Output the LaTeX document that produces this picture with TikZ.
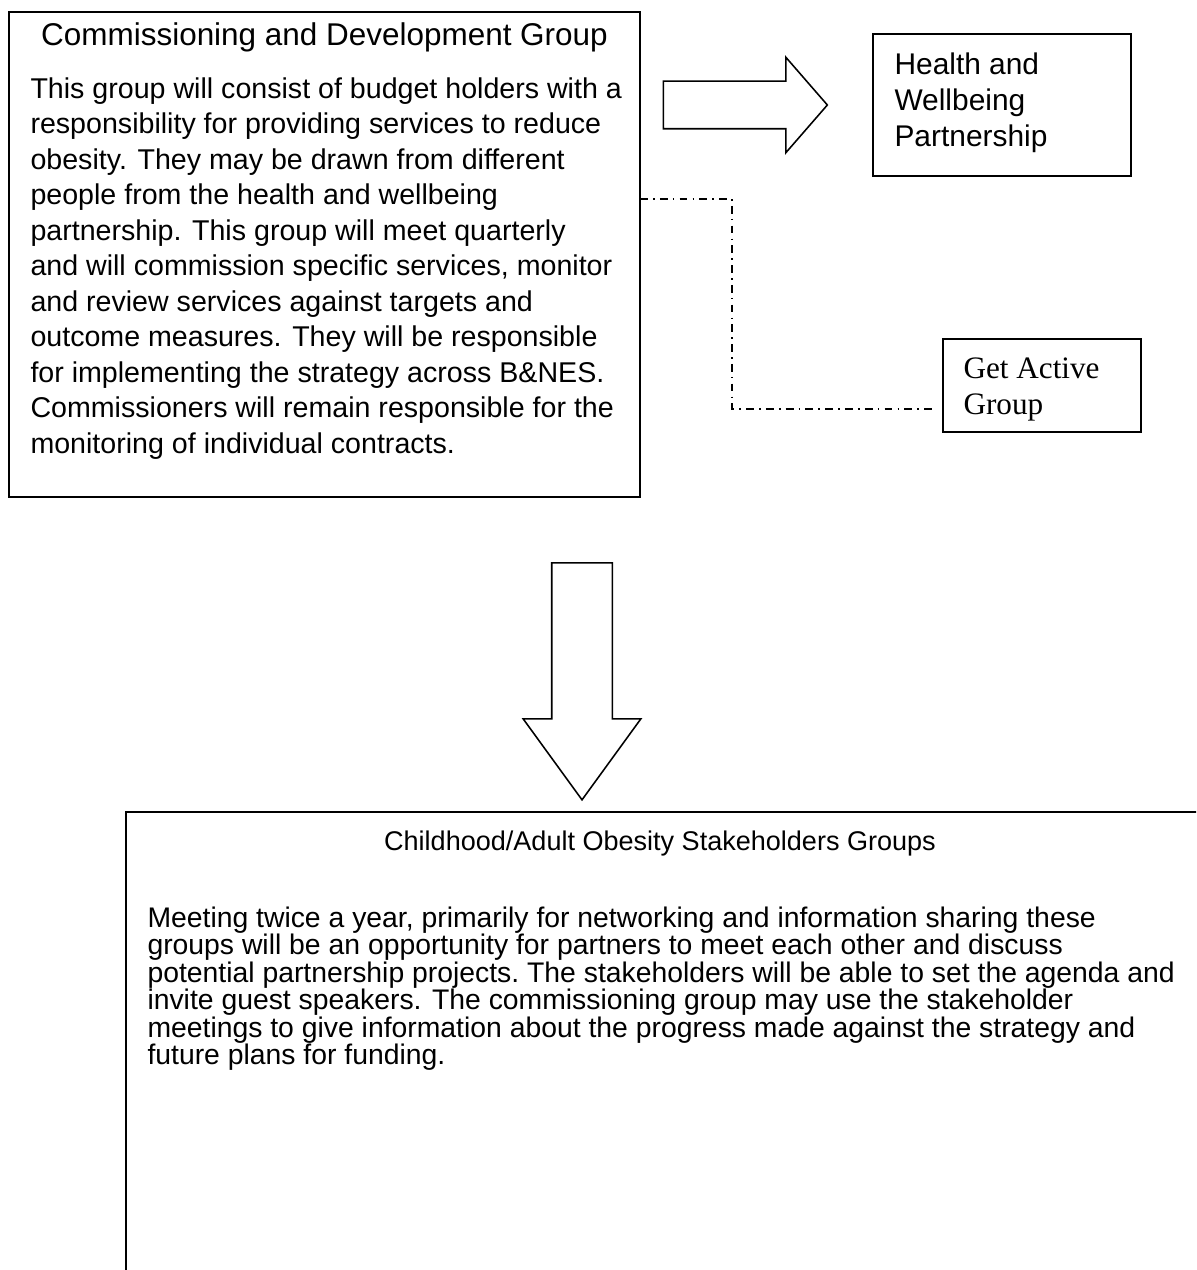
\documentclass[tikz,border=0pt]{standalone}
\usepackage{fontspec}
\setmainfont{Liberation Sans}
\newfontfamily\timesfont{Liberation Serif}
\usetikzlibrary{shapes.arrows,positioning}
\newcommand{\pxu}{0.3846pt}
\tikzset{
  grpbox/.style={draw, line width=0.75pt, inner sep=0pt, outer sep=0pt},
  blockarrow/.style={draw, line width=0.6pt, single arrow, single arrow head indent=0pt, inner xsep=0pt, outer sep=0pt},
  dashdotline/.style={line width=0.45pt, dash pattern=on 3pt off 2pt on 0.6pt off 2pt},
  bodytext/.style={anchor=north west, inner sep=0pt, align=left},
}
\begin{document}
\begin{tikzpicture}[x=0.3846pt, y=-0.3846pt]
\useasboundingbox (0,0) rectangle (1196,1270);
\clip (0,0) rectangle (1196,1270);
\node[grpbox, minimum width=631*\pxu, minimum height=485*\pxu] (cdg) at (324.5,254.5){};
\node[grpbox, minimum width=258*\pxu, minimum height=142*\pxu] (hwp) at (1002,105){};
\node[grpbox, minimum width=198*\pxu, minimum height=93*\pxu] (gag) at (1042,385.5){};
\node[grpbox, minimum width=1124*\pxu, minimum height=518*\pxu] (sog) at (688,1071){};
\node[anchor=base, inner sep=0pt, font=\fontsize{12.1}{14}\selectfont] (cdgtitle) at (324.5,46){Commissioning and Development Group};
\node[bodytext, font=\fontsize{11}{13.65}\selectfont] (cdgtext) at (30,77){This group will consist of budget holders with a\\
responsibility for providing services to reduce\\
obesity.  They may be drawn from different\\
people from the health and wellbeing\\
partnership.  This group will meet quarterly\\
and will commission specific services, monitor\\
and review services against targets and\\
outcome measures.  They will be responsible\\
for implementing the strategy across B\&NES.\\
Commissioners will remain responsible for the\\
monitoring of individual contracts.};
\node[bodytext, font=\fontsize{11.5}{13.85}\selectfont] (hwptext) at (894,52){Health and\\Wellbeing\\Partnership};
\node[bodytext, font=\timesfont\fontsize{12}{14}\selectfont] (gagtext) at (963,357){Get Active\\Group};
\node[anchor=base, inner sep=0pt, font=\fontsize{10.4}{13}\selectfont] (sogtitle) at (660,850){Childhood/Adult Obesity Stakeholders Groups};
\node[bodytext, font=\fontsize{10.9}{10.6}\selectfont] (sogtext) at (147,906){Meeting twice a year, primarily for networking and information sharing these\\
groups will be an opportunity for partners to meet each other and discuss\\
potential partnership projects.\ The stakeholders will be able to set the agenda and\\
invite guest speakers.  The commissioning group may use the stakeholder\\
meetings to give information about the progress made against the strategy and\\
future plans for funding.};
\node[blockarrow, inner ysep=23*\pxu, minimum height=164*\pxu, minimum width=94*\pxu, single arrow head extend=24*\pxu, single arrow tip angle=98] (toHwp) at (735,105){};
\node[blockarrow, rotate=-90, inner ysep=29.5*\pxu, minimum height=237*\pxu, minimum width=116*\pxu, single arrow head extend=28.5*\pxu, single arrow tip angle=72] (toSog) at (582,660.5){};
\coordinate (lnkA) at (700,199);
\coordinate (lnkB) at (732,409);
\draw[dashdotline, shorten >=6*\pxu] (cdg.east |- lnkA) -| (lnkB) -- (gag.west |- lnkB);
\end{tikzpicture}
\end{document}
